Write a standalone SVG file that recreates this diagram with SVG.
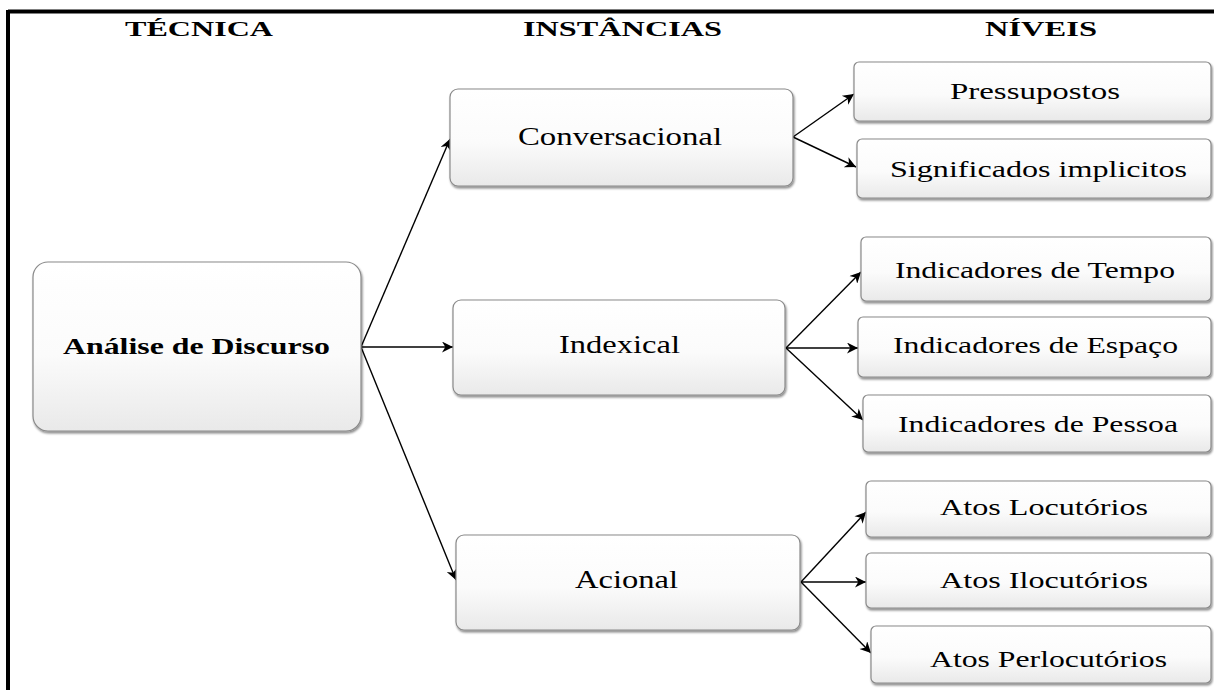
<svg xmlns="http://www.w3.org/2000/svg" width="1214" height="690" viewBox="0 0 1214 690">
<defs>
<linearGradient id="g" x1="0" y1="0" x2="0" y2="1">
<stop offset="0" stop-color="#ffffff"/>
<stop offset="0.55" stop-color="#fbfbfb"/>
<stop offset="1" stop-color="#e9e9e9"/>
</linearGradient>
<filter id="sh" x="-5%" y="-5%" width="112%" height="120%">
<feDropShadow dx="1" dy="2" stdDeviation="1" flood-color="#000" flood-opacity="0.45"/>
</filter>
<marker id="ah2" viewBox="0 0 10 10" refX="10" refY="5" markerWidth="15" markerHeight="11" markerUnits="userSpaceOnUse" orient="auto">
<path d="M0,0 L10,5 L0,10 L3,5 Z" fill="#000"/>
</marker>
</defs>
<style>
.box{fill:url(#g);stroke:#8a8a8a;stroke-width:1.2;filter:url(#sh)}
.t{font-family:"Liberation Serif","Times New Roman",serif;font-size:24px;fill:#000;text-anchor:start}
.m{font-size:26px}
.h{font-family:"Liberation Serif","Times New Roman",serif;font-size:21px;font-weight:bold;fill:#000}
.big{font-size:24px}
.c{stroke:#000;stroke-width:1.4;fill:none;marker-end:url(#ah2)}
</style>
<rect width="1214" height="690" fill="#fff"/>
<g id="frame">
<line x1="8" y1="11.5" x2="1214" y2="11.5" stroke="#000" stroke-width="4"/>
<line x1="8" y1="10" x2="8" y2="690" stroke="#000" stroke-width="4"/>
</g>
<g id="headers">
<text class="h" x="125" y="36" textLength="148" lengthAdjust="spacingAndGlyphs">TÉCNICA</text>
<text class="h" x="523" y="36" textLength="199" lengthAdjust="spacingAndGlyphs">INSTÂNCIAS</text>
<text class="h" x="985" y="36" textLength="112" lengthAdjust="spacingAndGlyphs">NÍVEIS</text>
</g>
<g id="connectors">
<line class="c" x1="361" y1="347" x2="450" y2="139"/>
<line class="c" x1="361" y1="347" x2="453" y2="347"/>
<line class="c" x1="361" y1="347" x2="456" y2="580"/>
<line class="c" x1="793" y1="137" x2="854" y2="94"/>
<line class="c" x1="793" y1="137" x2="856" y2="167"/>
<line class="c" x1="786" y1="348" x2="861" y2="272"/>
<line class="c" x1="786" y1="348" x2="858" y2="348"/>
<line class="c" x1="786" y1="348" x2="863" y2="420"/>
<line class="c" x1="801" y1="582" x2="866" y2="512"/>
<line class="c" x1="801" y1="582" x2="866" y2="582"/>
<line class="c" x1="801" y1="582" x2="871" y2="653"/>
</g>
<g id="analise">
<rect class="box" x="33" y="262" width="328" height="169" rx="15"/>
<text class="h big" x="63" y="354" textLength="267" lengthAdjust="spacingAndGlyphs">Análise de Discurso</text>
</g>
<g id="conversacional">
<rect class="box" x="450" y="89" width="343" height="97" rx="8"/>
<text class="t m" x="518" y="145" textLength="204" lengthAdjust="spacingAndGlyphs">Conversacional</text>
</g>
<g id="indexical">
<rect class="box" x="453" y="300" width="332" height="95" rx="8"/>
<text class="t m" x="559" y="353" textLength="121" lengthAdjust="spacingAndGlyphs">Indexical</text>
</g>
<g id="acional">
<rect class="box" x="456" y="535" width="344" height="95" rx="8"/>
<text class="t m" x="575" y="588" textLength="103" lengthAdjust="spacingAndGlyphs">Acional</text>
</g>
<g id="pressupostos">
<rect class="box" x="854" y="62" width="357" height="59" rx="5"/>
<text class="t" x="950" y="99" textLength="170" lengthAdjust="spacingAndGlyphs">Pressupostos</text>
</g>
<g id="significados">
<rect class="box" x="857" y="139" width="354" height="59" rx="5"/>
<text class="t" x="890" y="177" textLength="297" lengthAdjust="spacingAndGlyphs">Significados implicitos</text>
</g>
<g id="tempo">
<rect class="box" x="861" y="237" width="350" height="64" rx="5"/>
<text class="t" x="895" y="278" textLength="280" lengthAdjust="spacingAndGlyphs">Indicadores de Tempo</text>
</g>
<g id="espaco">
<rect class="box" x="858" y="317" width="353" height="60" rx="5"/>
<text class="t" x="893" y="353" textLength="285" lengthAdjust="spacingAndGlyphs">Indicadores de Espaço</text>
</g>
<g id="pessoa">
<rect class="box" x="863" y="395" width="348" height="57" rx="5"/>
<text class="t" x="898" y="432" textLength="280" lengthAdjust="spacingAndGlyphs">Indicadores de Pessoa</text>
</g>
<g id="locutorios">
<rect class="box" x="866" y="481" width="345" height="56" rx="5"/>
<text class="t" x="940" y="515" textLength="208" lengthAdjust="spacingAndGlyphs">Atos Locutórios</text>
</g>
<g id="ilocutorios">
<rect class="box" x="866" y="553" width="345" height="55" rx="5"/>
<text class="t" x="940" y="588" textLength="208" lengthAdjust="spacingAndGlyphs">Atos Ilocutórios</text>
</g>
<g id="perlocutorios">
<rect class="box" x="871" y="626" width="340" height="57" rx="5"/>
<text class="t" x="930" y="667" textLength="237" lengthAdjust="spacingAndGlyphs">Atos Perlocutórios</text>
</g>
</svg>
